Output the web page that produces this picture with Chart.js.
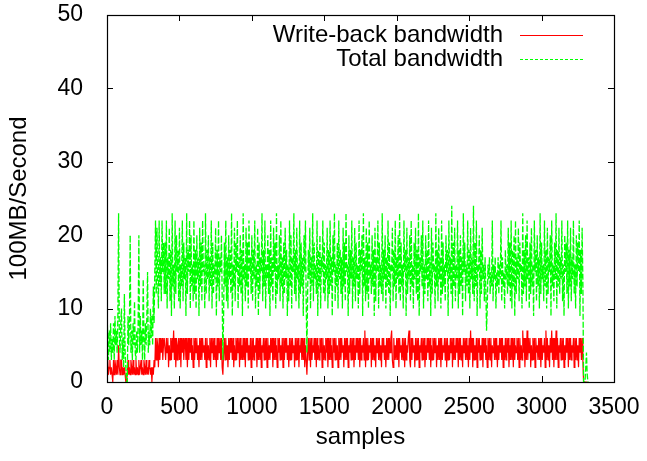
<!DOCTYPE html>
<html>
<head>
<meta charset="utf-8">
<script src="https://cdn.jsdelivr.net/npm/chart.js@4.4.1/dist/chart.umd.min.js"></script>
<style>
  html, body { margin: 0; padding: 0; background: #fff; }
</style>
</head>
<body>
<canvas id="bwChart" width="647" height="461"></canvas>
<script>
// one reading every 5 samples
const sampleStep = 5;

// write-back bandwidth (100MB/s), 20 readings per row = 100 samples
const writeBack = [
  1, 3, 1, 2, 3, 1, 2, 1, 0, 3, 1, 3, 2, 1, 3, 1, 5, 2, 1, 3,
  3, 1, 2, 1, 2, 1, 0, 0, 1, 3, 1, 2, 1, 3, 2, 1, 3, 1, 2, 1,
  3, 1, 2, 1, 3, 1, 2, 3, 1, 2, 1, 3, 2, 1, 3, 1, 2, 1, 3, 2,
  1, 2, 0, 2, 1, 3, 2, 6, 3, 6, 5, 2, 6, 3, 6, 4, 6, 3, 5, 6,
  6, 3, 6, 4, 6, 2, 5, 3, 6, 3, 6, 4, 7, 3, 6, 2, 6, 3, 5, 6,
  3, 6, 2, 6, 4, 6, 3, 5, 6, 3, 6, 2, 6, 3, 6, 4, 6, 3, 5, 2,
  6, 3, 6, 4, 6, 3, 5, 2, 6, 3, 6, 3, 6, 4, 5, 3, 6, 2, 6, 3,
  5, 3, 6, 2, 6, 4, 6, 3, 6, 3, 5, 2, 6, 3, 6, 4, 6, 3, 6, 2,
  1, 4, 6, 3, 6, 3, 5, 2, 6, 3, 6, 4, 6, 3, 6, 2, 5, 3, 6, 3,
  6, 4, 6, 2, 6, 3, 5, 3, 6, 3, 6, 2, 6, 4, 6, 3, 5, 3, 6, 2,
  6, 3, 6, 3, 5, 4, 6, 2, 6, 3, 6, 3, 6, 2, 5, 4, 6, 3, 6, 3,
  6, 2, 6, 3, 5, 3, 6, 4, 6, 2, 6, 3, 6, 3, 5, 2, 6, 4, 6, 3,
  5, 3, 6, 2, 6, 3, 6, 4, 6, 3, 5, 2, 6, 3, 6, 3, 6, 4, 5, 2,
  6, 3, 6, 3, 6, 2, 5, 4, 6, 3, 6, 3, 6, 2, 5, 3, 1, 4, 6, 3,
  6, 2, 6, 3, 5, 4, 6, 3, 6, 2, 6, 3, 5, 3, 6, 4, 6, 2, 6, 3,
  5, 3, 6, 4, 6, 2, 6, 3, 6, 3, 5, 2, 6, 4, 6, 3, 6, 3, 5, 2,
  6, 3, 6, 3, 6, 4, 5, 2, 6, 3, 6, 3, 6, 2, 5, 4, 6, 3, 6, 3,
  6, 2, 5, 3, 6, 4, 6, 3, 6, 2, 6, 3, 5, 4, 6, 3, 7, 2, 6, 3,
  6, 3, 5, 4, 6, 2, 6, 3, 6, 3, 5, 2, 6, 4, 6, 3, 6, 3, 5, 2,
  6, 4, 6, 3, 5, 2, 6, 3, 6, 3, 6, 4, 6, 7, 3, 2, 6, 3, 5, 3,
  6, 3, 6, 2, 6, 4, 5, 3, 6, 3, 6, 2, 6, 3, 5, 4, 6, 7, 3, 2,
  6, 3, 6, 4, 5, 2, 6, 3, 6, 3, 6, 2, 5, 4, 6, 3, 6, 3, 6, 2,
  5, 3, 6, 4, 6, 3, 6, 2, 5, 3, 6, 3, 6, 4, 6, 2, 5, 3, 6, 3,
  6, 2, 6, 3, 5, 4, 6, 3, 6, 2, 6, 3, 5, 3, 6, 4, 6, 2, 6, 3,
  5, 3, 6, 4, 6, 2, 6, 3, 6, 3, 5, 2, 6, 4, 6, 3, 6, 3, 5, 2,
  6, 3, 7, 4, 6, 2, 6, 3, 5, 3, 6, 2, 6, 4, 6, 3, 5, 3, 6, 2,
  6, 4, 6, 3, 5, 2, 6, 3, 6, 3, 6, 2, 5, 4, 6, 3, 6, 3, 6, 2,
  5, 3, 6, 4, 6, 3, 6, 2, 5, 3, 6, 3, 6, 4, 6, 2, 5, 3, 6, 3,
  6, 2, 6, 3, 5, 4, 6, 3, 6, 2, 6, 3, 5, 3, 7, 4, 6, 2, 6, 3,
  7, 3, 6, 4, 6, 2, 5, 3, 6, 3, 6, 2, 6, 4, 5, 3, 6, 3, 6, 2,
  6, 3, 5, 4, 6, 2, 7, 3, 6, 3, 5, 2, 6, 4, 7, 3, 6, 2, 6, 3,
  7, 3, 6, 2, 5, 4, 6, 3, 6, 3, 6, 2, 5, 3, 6, 4, 6, 2, 6, 3,
  6, 3, 5, 4, 6, 2, 6, 3, 6, 3, 5, 2, 6, 4, 6, 3, 6, 3, 0, 0,
  0, 0, 0, 0, 0
];

// total bandwidth (100MB/s), same layout
const totalBw = [
  10, 6, 3, 7, 4, 8, 3, 6, 4, 8, 3, 9, 5, 7, 4, 9, 23, 6, 4, 8,
  10, 3, 6, 2, 12, 4, 2, 0, 0, 9, 5, 8, 20, 4, 7, 3, 8, 5, 11, 4,
  3, 7, 4, 8, 20, 4, 9, 5, 7, 3, 14, 6, 3, 8, 5, 9, 15, 4, 7, 5,
  10, 6, 9, 5, 13, 8, 15, 22, 12, 21, 14, 10, 22, 13, 17, 11, 22, 15, 19, 12,
  19, 12, 22, 10, 17, 14, 21, 11, 18, 9, 23, 13, 16, 10, 22, 12, 20, 15, 18, 11,
  21, 10, 16, 13, 22, 11, 19, 14, 17, 9, 23, 12, 18, 15, 22, 10, 20, 13, 16, 11,
  22, 12, 18, 10, 20, 14, 17, 9, 21, 13, 19, 11, 22, 15, 16, 10, 23, 12, 18, 14,
  20, 11, 17, 13, 22, 10, 19, 12, 16, 14, 21, 9, 18, 13, 22, 11, 17, 15, 20, 12,
  3, 9, 19, 13, 22, 11, 17, 10, 20, 14, 18, 12, 23, 9, 16, 13, 21, 11, 19, 15,
  22, 10, 17, 13, 20, 12, 18, 9, 23, 14, 16, 11, 21, 13, 19, 10, 22, 15, 17, 12,
  20, 11, 18, 14, 22, 10, 16, 13, 21, 9, 19, 12, 17, 15, 23, 11, 18, 13, 22, 10,
  16, 14, 20, 12, 18, 9, 22, 13, 17, 11, 21, 15, 19, 10, 23, 12, 16, 14, 20, 11,
  22, 13, 17, 10, 19, 12, 21, 14, 18, 9, 16, 11, 22, 13, 20, 10, 17, 15, 23, 12,
  18, 11, 21, 14, 16, 10, 22, 12, 19, 13, 17, 9, 20, 15, 22, 11, 4, 12, 18, 14,
  21, 10, 17, 13, 23, 11, 19, 14, 16, 12, 22, 9, 18, 13, 20, 10, 17, 15, 22, 12,
  19, 11, 16, 14, 21, 10, 18, 12, 22, 13, 17, 9, 20, 15, 23, 11, 16, 13, 19, 10,
  22, 14, 18, 12, 17, 10, 21, 13, 19, 11, 23, 15, 16, 9, 20, 12, 18, 14, 22, 10,
  17, 13, 21, 11, 19, 14, 16, 10, 22, 12, 18, 15, 20, 9, 23, 13, 17, 11, 21, 12,
  19, 10, 22, 14, 16, 12, 20, 13, 18, 9, 21, 11, 17, 15, 22, 10, 19, 13, 16, 12,
  23, 11, 18, 14, 20, 10, 17, 13, 22, 12, 19, 9, 16, 15, 21, 11, 18, 13, 22, 10,
  17, 14, 20, 12, 23, 11, 19, 13, 16, 10, 22, 15, 18, 9, 21, 12, 17, 14, 20, 11,
  22, 13, 16, 10, 19, 14, 21, 12, 18, 11, 23, 9, 17, 15, 20, 13, 22, 10, 16, 12,
  20, 14, 18, 11, 22, 13, 17, 9, 21, 12, 19, 15, 16, 10, 23, 13, 18, 11, 21, 14,
  17, 10, 22, 12, 19, 13, 16, 11, 20, 15, 18, 9, 22, 14, 17, 12, 24, 10, 19, 13,
  21, 11, 16, 14, 22, 10, 18, 12, 20, 13, 17, 9, 23, 15, 19, 11, 16, 13, 22, 12,
  18, 10, 21, 14, 17, 12, 24, 11, 19, 13, 22, 9, 16, 15, 20, 10, 18, 12, 21, 14,
  16, 11, 17, 13, 7, 10, 16, 14, 17, 12, 15, 13, 22, 11, 16, 14, 17, 10, 15, 13,
  17, 12, 16, 14, 22, 11, 17, 13, 15, 10, 18, 14, 16, 12, 21, 13, 19, 11, 22, 10,
  18, 13, 20, 9, 22, 12, 17, 14, 21, 11, 19, 15, 16, 10, 23, 12, 18, 13, 20, 11,
  22, 14, 17, 10, 19, 12, 21, 13, 16, 9, 22, 15, 18, 11, 20, 13, 17, 10, 23, 12,
  19, 14, 16, 11, 22, 13, 18, 10, 21, 12, 17, 15, 20, 9, 22, 13, 16, 11, 19, 14,
  23, 10, 18, 13, 21, 12, 17, 14, 22, 11, 16, 9, 20, 15, 19, 12, 22, 10, 18, 13,
  21, 11, 17, 14, 22, 12, 16, 10, 20, 13, 19, 15, 22, 9, 18, 12, 21, 14, 0, 0,
  0, 2, 4, 1, 0
];

const xTicks = [0, 500, 1000, 1500, 2000, 2500, 3000, 3500];
const yTicks = [0, 10, 20, 30, 40, 50];

const RED = '#ff0000';
const GREEN = '#00ff00';
const GREEN_DASH = [6, 2];
const FONT = 'Liberation Sans, Arial, Helvetica, sans-serif';

function toPoints(arr) {
  return arr.map((v, i) => ({ x: i * sampleStep, y: v }));
}

// gnuplot-like frame with inward ticks on all four sides
const framePlugin = {
  id: 'frame',
  afterDatasetsDraw(chart) {
    const { ctx, chartArea: a, scales } = chart;
    ctx.save();
    ctx.strokeStyle = '#000';
    ctx.lineWidth = 1;
    ctx.beginPath();
    xTicks.forEach(v => {
      const x = Math.round(scales.x.getPixelForValue(v)) + 0.5;
      ctx.moveTo(x, a.bottom); ctx.lineTo(x, a.bottom - 6);
      ctx.moveTo(x, a.top); ctx.lineTo(x, a.top + 6);
    });
    yTicks.forEach(v => {
      const y = Math.round(scales.y.getPixelForValue(v)) + 0.5;
      ctx.moveTo(a.left, y); ctx.lineTo(a.left + 6, y);
      ctx.moveTo(a.right, y); ctx.lineTo(a.right - 6, y);
    });
    ctx.stroke();
    ctx.lineWidth = 1.2;
    ctx.strokeRect(Math.round(a.left) + 0.5, Math.round(a.top) + 0.5,
      Math.round(a.right - a.left), Math.round(a.bottom - a.top));
    ctx.restore();
  }
};

// key in the top right: right-aligned label, line sample after it
const keyPlugin = {
  id: 'key',
  afterDraw(chart) {
    const { ctx } = chart;
    const styles = [
      { color: RED, dash: [] },
      { color: GREEN, dash: [3, 2] }
    ];
    ctx.save();
    ctx.font = '24px ' + FONT;
    ctx.fillStyle = '#000';
    ctx.textAlign = 'right';
    ctx.textBaseline = 'middle';
    chart.data.datasets.forEach((ds, i) => {
      const y = 35 + i * 24;
      ctx.fillText(ds.label, 503, y);
      ctx.strokeStyle = styles[i].color;
      ctx.lineWidth = 1.2;
      ctx.setLineDash(styles[i].dash);
      ctx.beginPath();
      ctx.moveTo(520, y + 0.5);
      ctx.lineTo(583, y + 0.5);
      ctx.stroke();
    });
    ctx.restore();
  }
};

new Chart(document.getElementById('bwChart'), {
  type: 'line',
  data: {
    datasets: [
      {
        label: 'Write-back bandwidth',
        data: toPoints(writeBack),
        borderColor: RED,
        borderWidth: 1.2,
        order: 1
      },
      {
        label: 'Total bandwidth',
        data: toPoints(totalBw),
        borderColor: GREEN,
        borderWidth: 1.3,
        borderDash: GREEN_DASH,
        order: 0
      }
    ]
  },
  options: {
    responsive: false,
    devicePixelRatio: 1,
    animation: false,
    layout: { padding: { top: 15, right: 33, left: 0, bottom: 0 } },
    elements: { point: { radius: 0 }, line: { tension: 0 } },
    plugins: { legend: { display: false }, tooltip: { enabled: false } },
    scales: {
      x: {
        type: 'linear',
        min: 0,
        max: 3500,
        afterBuildTicks: s => { s.ticks = xTicks.map(v => ({ value: v })); },
        afterFit: s => { s.height = 79; s.paddingLeft = 0; s.paddingRight = 0; },
        grid: { display: false },
        border: { display: false },
        ticks: { color: '#000', font: { family: FONT, size: 23 }, padding: 4,
          maxRotation: 0, callback: v => String(v) },
        title: { display: true, text: 'samples', color: '#000',
          font: { family: FONT, size: 24 }, padding: { top: 0, bottom: 9 } }
      },
      y: {
        min: 0,
        max: 50,
        afterBuildTicks: s => { s.ticks = yTicks.map(v => ({ value: v })); },
        afterFit: s => { s.width = 107; s.paddingTop = 0; s.paddingBottom = 0; },
        grid: { display: false },
        border: { display: false },
        ticks: { color: '#000', font: { family: FONT, size: 23 }, padding: 16,
          callback: v => String(v) },
        title: { display: true, text: '100MB/Second', color: '#000',
          font: { family: FONT, size: 24 }, padding: { top: 5, bottom: 0 } }
      }
    }
  },
  plugins: [framePlugin, keyPlugin]
});
</script>
</body>
</html>
